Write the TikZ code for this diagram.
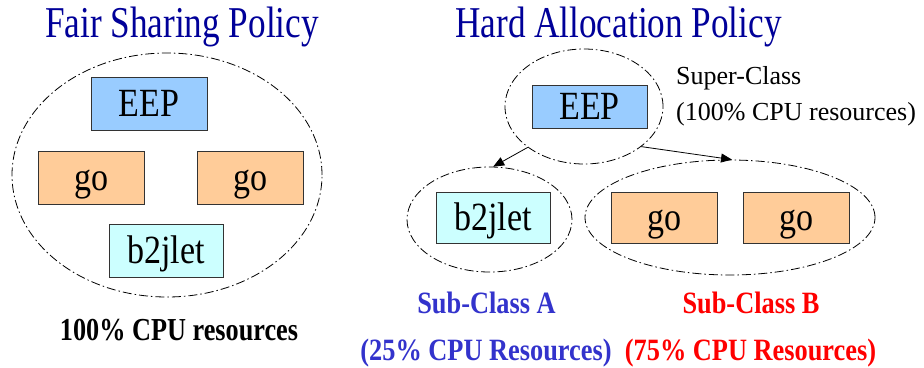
\documentclass[tikz,border=0pt]{standalone}
\usepackage{fontspec}
\setmainfont{Liberation Serif}
\newfontfamily\titlefont[FakeStretch=0.8]{Liberation Serif}
\newfontfamily\boxfont[FakeStretch=0.85]{Liberation Serif}
\newfontfamily\labelfont[FakeStretch=0.85]{Liberation Serif}
\newfontfamily\notefont[FakeStretch=0.82]{Liberation Serif}
\usetikzlibrary{shapes.geometric,arrows.meta}

\definecolor{titleblue}{RGB}{0,0,153}
\definecolor{eepfill}{RGB}{153,204,255}
\definecolor{gofill}{RGB}{255,204,153}
\definecolor{jetfill}{RGB}{204,255,255}
\definecolor{classA}{RGB}{51,51,204}
\definecolor{classB}{RGB}{255,0,0}

\tikzset{
  group/.style={ellipse, draw=black, line width=0.8pt, inner sep=0pt,
    dash pattern=on 9pt off 3pt on 1.5pt off 3pt},
  prog/.style={rectangle, draw=black!80, line width=0.8pt, inner sep=0pt,
    font=\boxfont\fontsize{40}{40}\selectfont, text height=26pt, text depth=0pt},
  title/.style={anchor=base, inner sep=0pt, text=titleblue,
    font=\titlefont\fontsize{44}{50}\selectfont},
  note/.style={anchor=base west, inner sep=0pt,
    font=\fontsize{26}{30}\selectfont},
  share/.style={anchor=base, inner sep=0pt,
    font=\labelfont\bfseries\fontsize{31}{36}\selectfont},
  link/.style={line width=0.8pt, -{Triangle[length=11pt,width=9pt]}}
}

\begin{document}
\begin{tikzpicture}[x=1pt,y=-1pt]
\useasboundingbox (0,0) rectangle (924,367);

% Fair sharing: every program in one pool
\node[title] (ttlFair) at (182,37) {Fair Sharing Policy};
\node[group, minimum width=310, minimum height=244] (pool) at (167,175) {};
\node[prog, fill=eepfill, minimum width=116, minimum height=53] (eepA) at (149,103.5) {EEP};
\node[prog, fill=gofill, minimum width=106, minimum height=53] (goA) at (91,177.5) {go};
\node[prog, fill=gofill, minimum width=106, minimum height=53] (goB) at (250,177.5) {go};
\node[prog, fill=jetfill, minimum width=114, minimum height=53] (jetA) at (166,250.5) {b2jlet};
\node[share, font=\notefont\bfseries\fontsize{32}{36}\selectfont] (poolShare) at (179,340) {100\% CPU resources};

% Hard allocation: super-class split into two sub-classes
\node[title] (ttlHard) at (618.5,37) {Hard Allocation Policy};
\node[group, minimum width=158, minimum height=115] (super) at (584,106.5) {};
\node[prog, fill=eepfill, minimum width=115, minimum height=43] (eepB) at (589.5,106.5) {EEP};
\node[note] (superName) at (676,84) {Super-Class};
\node[note] (superShare) at (676,120) {(100\% CPU resources)};

\node[group, minimum width=165, minimum height=105] (subA) at (489.5,219.5) {};
\node[prog, fill=jetfill, minimum width=114, minimum height=51] (jetB) at (493,217.5) {b2jlet};

\node[group, minimum width=290, minimum height=115] (subB) at (730,217.5) {};
\node[prog, fill=gofill, minimum width=106, minimum height=51] (goC) at (664,217.5) {go};
\node[prog, fill=gofill, minimum width=106, minimum height=51] (goD) at (796,217.5) {go};

\draw[link] (super.216) -- (subA.86);
\draw[link] (super.325) -- (subB.88);

\node[share, text=classA] (nameA) at (486.5,313) {Sub-Class A};
\node[share, text=classA] (shareA) at (486,360) {(25\% CPU Resources)};
\node[share, text=classB] (nameB) at (751,313) {Sub-Class B};
\node[share, text=classB] (shareB) at (750.5,360) {(75\% CPU Resources)};
\end{tikzpicture}
\end{document}
